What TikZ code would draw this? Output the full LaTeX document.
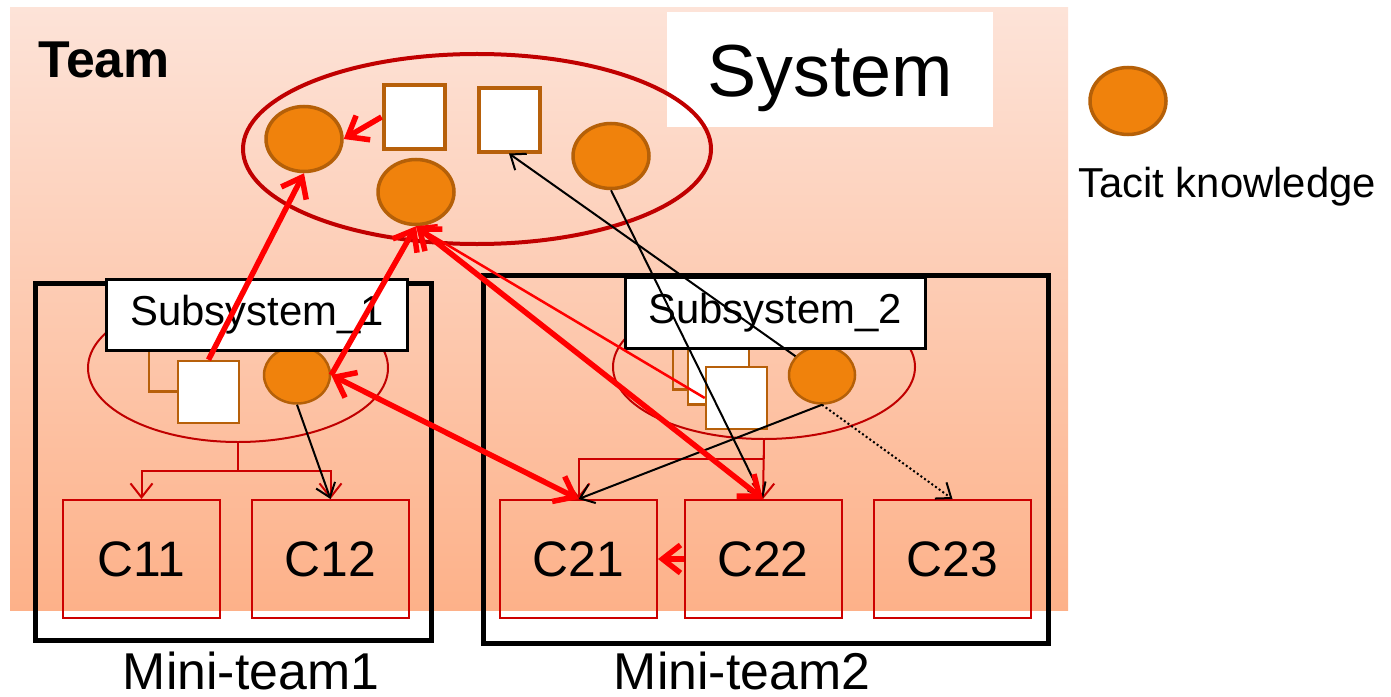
\documentclass[tikz,border=0pt]{standalone}
\usepackage{fontspec}
\setmainfont{Liberation Sans}
\usetikzlibrary{shapes.geometric,arrows.meta}

\definecolor{tkfill}{RGB}{240,130,12}
\definecolor{tkline}{RGB}{181,96,8}
\definecolor{sqline}{RGB}{183,96,10}
\definecolor{ellred}{RGB}{192,0,0}
\definecolor{boxred}{RGB}{204,0,0}
\definecolor{bgtop}{RGB}{253,227,216}
\definecolor{bgbot}{RGB}{253,177,137}

\begin{document}
\begin{tikzpicture}[x=1bp,y=-1bp,
  tacitbig/.style={ellipse, draw=tkline, fill=tkfill, line width=3.5bp, inner sep=0pt,
    minimum width=76bp, minimum height=65bp},
  tacitsmall/.style={ellipse, draw=tkline, fill=tkfill, line width=2.5bp, inner sep=0pt,
    minimum width=66bp, minimum height=57bp},
  sysq/.style={rectangle, draw=sqline, fill=white, line width=4bp, inner sep=0pt,
    minimum width=61bp, minimum height=63bp},
  subq/.style={rectangle, draw=sqline, fill=white, line width=2.5bp, inner sep=0pt,
    minimum width=61bp, minimum height=62bp},
  subqback/.style={subq, fill=none},
  cbox/.style={rectangle, draw=boxred, line width=2bp, inner sep=0pt,
    minimum width=157bp, minimum height=118bp, font=\fontsize{50}{58}\selectfont},
  sublabel/.style={rectangle, draw=black, fill=white, line width=3bp, inner sep=0pt,
    minimum width=300bp, minimum height=71bp, font=\fontsize{42}{50}\selectfont},
  minibox/.style={draw=black, line width=5bp},
  subell/.style={ellipse, draw=ellred, line width=2bp, inner sep=0pt},
  branch/.style={draw=boxred, line width=2bp, -{Straight Barb[length=14bp,width=22bp]}},
  redthick/.style={draw=red, line width=5.5bp, >={Straight Barb[length=18bp,width=28bp]}},
  redthin/.style={draw=red, line width=2.5bp, >={Straight Barb[length=16bp,width=24bp]}},
  blk/.style={draw=black, line width=2bp, >={Straight Barb[length=13bp,width=20bp]}},
  blkdot/.style={blk, dash pattern=on 2bp off 2.5bp},
  bigtext/.style={inner sep=0pt, font=\fontsize{52}{60}\selectfont}
]
\useasboundingbox (0,0) rectangle (1391,696);

% team area
\fill[top color=bgtop, bottom color=bgbot] (10,8) rectangle (1068,610);
\node[bigtext, anchor=base west, font=\fontsize{52}{60}\selectfont\bfseries] (team) at (38,78) {Team};
\node[fill=white, inner sep=0pt, minimum width=326bp, minimum height=115bp] (sysbox) at (830,69.5) {};
\node[inner sep=0pt, anchor=base, font=\fontsize{74}{82}\selectfont] (systxt) at (830,97) {System};

% system ellipse and its contents
\node[ellipse, draw=ellred, line width=4bp, inner sep=0pt,
      minimum width=468bp, minimum height=190bp] (sys) at (477,149) {};
\node[tacitbig] (c1) at (304,139) {};
\node[tacitbig] (c2) at (416,192) {};
\node[tacitbig] (c3) at (611,156) {};
\node[sysq] (s1) at (414,117) {};
\node[sysq] (s2) at (509,120) {};

% mini-teams
\draw[minibox] (35,283) rectangle (431,640);
\draw[minibox] (483,275) rectangle (1048,643);
\node[bigtext, anchor=base] (mt1) at (251,689) {Mini-team1};
\node[bigtext, anchor=base] (mt2) at (742,689) {Mini-team2};

% subsystem 1
\node[subell, minimum width=300bp, minimum height=148bp] (e1) at (238,368) {};
\node[subqback] (q1b) at (179.5,360.5) {};
\node[subq] (q1f) at (208.5,392) {};
\node[tacitsmall] (t1) at (297,375) {};
\node[sublabel] (sub1) at (257,314.5) {Subsystem\_1};

% subsystem 2
\node[subell, minimum width=302bp, minimum height=144bp] (e2) at (764,367) {};
\node[subqback] (q2b) at (703.5,358.5) {};
\node[subq] (q2m) at (718.5,373.5) {};
\node[subq] (q2f) at (736.5,398) {};
\node[tacitsmall] (t2) at (822,375) {};
\node[sublabel] (sub2) at (775,313) {Subsystem\_2};

% components
\node[cbox] (C11) at (141.5,559) {C11};
\node[cbox] (C12) at (330.5,559) {C12};
\node[cbox] (C21) at (578.5,559) {C21};
\node[cbox] (C22) at (763,559) {C22};
\node[cbox] (C23) at (952.5,559) {C23};

% decomposition branches
\coordinate (j1) at (238,471);
\coordinate (j2) at (764,459);
\draw[draw=boxred, line width=2bp] (e1.south) -- (j1);
\draw[branch] (j1) -| (C11.north);
\draw[branch] (j1) -| (C12.north);
\draw[draw=boxred, line width=2bp] (e2.south) -- (j2);
\draw[branch] (j2) -| (C21.north);
\draw[branch] (e2.south) -- (C22.north);

% legend
\node[tacitbig, minimum height=67bp] (leg) at (1128,101) {};
\node[inner sep=0pt, anchor=base west, font=\fontsize{42}{50}\selectfont] (legtxt) at (1078,197) {Tacit knowledge};

% knowledge flows
\draw[blk,->] (c3.south) -- (C22.north);
\draw[blk,->] (t2) -- (s2.south);
\draw[blk,->] (t2.south) -- (C21.north);
\draw[blkdot,->] (t2.south) -- (C23.north);
\draw[blk,->] (t1.south) -- (C12.north);
\draw[redthin,->] (q2f.west) -- (c2.south);
\draw[redthick,->] (s1.west) -- (c1.east);
\draw[redthick,->] (q1f.north) -- (c1.south);
\draw[redthick,->] (t1.east) -- (c2.south);
\draw[redthick,<->] (C21.north) -- (t1.east);
\draw[redthick,<->] (C22.north) -- (c2.south);
\draw[redthick,->] (C22.west) -- (C21.east);
\end{tikzpicture}
\end{document}
